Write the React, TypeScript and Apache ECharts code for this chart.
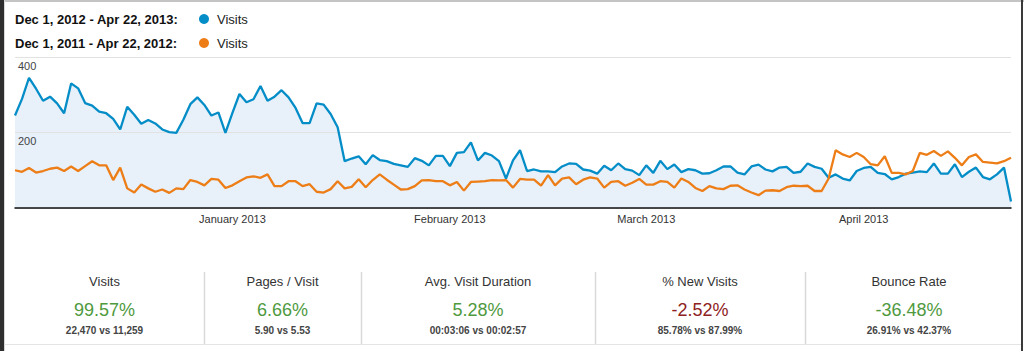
import React, { useEffect, useRef } from "react";
import * as echarts from "echarts";

const visits2013 = [
  245, 289, 345, 316, 284, 295, 277, 251, 330, 317, 278, 271, 255, 251, 236, 208, 268, 247, 223, 233, 224, 208, 201, 199, 234, 275, 293, 273, 245, 253, 199, 252, 302, 280, 288, 323,
  284, 295, 312, 293, 265, 225, 225, 277, 274, 249, 214, 124, 131, 137, 116, 140, 127, 124, 117, 113, 109, 132, 125, 113, 138, 138, 111, 146, 148, 174, 126, 146, 139, 124, 78,
  126, 153, 98, 102, 97, 97, 95, 110, 118, 117, 102, 99, 91, 112, 100, 118, 103, 99, 87, 113, 93, 125, 103, 115, 95, 103, 100, 91, 92, 100, 110, 110, 94, 89, 110, 115,
  102, 97, 107, 109, 93, 96, 118, 109, 104, 80, 89, 78, 73, 98, 106, 109, 93, 90, 76, 82, 91, 94, 97, 95, 118, 91, 91, 116, 82, 96, 107, 82, 76, 89, 107, 17,
];

const visits2012 = [
  100, 96, 106, 94, 98, 104, 107, 98, 110, 98, 111, 124, 113, 113, 74, 107, 52, 41, 62, 52, 43, 49, 40, 52, 50, 74, 69, 60, 77, 75, 53, 60, 71, 81, 84, 80,
  89, 58, 58, 71, 71, 58, 63, 43, 41, 50, 71, 52, 56, 76, 55, 74, 89, 75, 62, 49, 50, 58, 73, 74, 71, 71, 60, 69, 46, 69, 70, 71, 74, 73, 74,
  54, 77, 75, 75, 59, 87, 60, 78, 81, 63, 75, 81, 78, 54, 69, 71, 59, 67, 77, 62, 62, 71, 69, 54, 78, 69, 53, 45, 58, 52, 50, 59, 60, 49, 41, 34,
  46, 47, 45, 55, 59, 58, 59, 45, 45, 78, 153, 142, 135, 146, 135, 116, 113, 137, 93, 93, 89, 98, 146, 141, 151, 138, 150, 133, 113, 135, 142, 122, 120, 118, 124, 133,
];

const monthLabels: Record<string, string> = {
  "2013-01-01": "January 2013",
  "2013-02-01": "February 2013",
  "2013-03-01": "March 2013",
  "2013-04-01": "April 2013",
};

const legendRanges = ["Dec 1, 2012 - Apr 22, 2013:", "Dec 1, 2011 - Apr 22, 2012:"];
const legendSeriesName = "Visits";

const cardTitles = ["Visits", "Pages / Visit", "Avg. Visit Duration", "% New Visits", "Bounce Rate"];
const cardValues = ["99.57%", "6.66%", "5.28%", "-2.52%", "-36.48%"];
const cardPositive = [true, true, true, false, true];
const cardCompare = ["22,470 vs 11,259", "5.90 vs 5.53", "00:03:06 vs 00:02:57", "85.78% vs 87.99%", "26.91% vs 42.37%"];

const categories: string[] = [];
{
  const d = new Date(Date.UTC(2012, 11, 1));
  for (let i = 0; i < visits2013.length; i++) {
    categories.push(d.toISOString().slice(0, 10));
    d.setUTCDate(d.getUTCDate() + 1);
  }
}

const BLUE = "#058dc7";
const ORANGE = "#ed7e17";
const FONT = "Liberation Sans, Arial, sans-serif";

export default function App() {
  const ref = useRef<HTMLDivElement>(null);
  useEffect(() => {
    document.body.style.margin = "0";
    const chart = echarts.init(ref.current!, null, { renderer: "svg" });

    const colEdges = [5, 204, 361, 595, 805, 1013];
    const graphics: any[] = [
      { type: "rect", shape: { x: 0, y: 0, width: 1024, height: 2 }, style: { fill: "#c4c4c4" }, silent: true },
      { type: "rect", shape: { x: 0, y: 0, width: 4, height: 351 }, style: { fill: "#2e2e2e" }, silent: true },
      { type: "rect", shape: { x: 4, y: 0, width: 1, height: 351 }, style: { fill: "#d8d8d8" }, silent: true },
      { type: "rect", shape: { x: 1021, y: 0, width: 2, height: 351 }, style: { fill: "#3a3a3a" }, silent: true },
      { type: "line", shape: { x1: 5, y1: 344.5, x2: 1021, y2: 344.5 }, style: { stroke: "#e4e4e4", lineWidth: 1 }, silent: true },
    ];
    legendRanges.forEach((label, i) => {
      const y = 19 + i * 24;
      graphics.push({
        type: "text", x: 15, y,
        style: { text: label, font: `bold 13px ${FONT}`, fill: "#111", verticalAlign: "middle", textAlign: "left" },
      });
      graphics.push({ type: "circle", shape: { cx: 204, cy: y, r: 5 }, style: { fill: i === 0 ? BLUE : ORANGE } });
      graphics.push({
        type: "text", x: 217, y,
        style: { text: legendSeriesName, font: `13px ${FONT}`, fill: "#222", verticalAlign: "middle", textAlign: "left" },
      });
    });
    for (let k = 1; k < colEdges.length - 1; k++) {
      graphics.push({
        type: "line", shape: { x1: colEdges[k] + 0.5, y1: 272, x2: colEdges[k] + 0.5, y2: 344 },
        style: { stroke: "#d9d9d9", lineWidth: 1.5 }, silent: true,
      });
    }
    cardTitles.forEach((t, k) => {
      const cx = (colEdges[k] + colEdges[k + 1]) / 2;
      graphics.push({ type: "text", x: cx, y: 281, style: { text: t, font: `13px ${FONT}`, fill: "#333", textAlign: "center", verticalAlign: "middle" } });
      graphics.push({
        type: "text", x: cx, y: 310,
        style: { text: cardValues[k], font: `18px ${FONT}`, fill: cardPositive[k] ? "#4f9a3e" : "#8e2222", textAlign: "center", verticalAlign: "middle" },
      });
      graphics.push({ type: "text", x: cx, y: 330, style: { text: cardCompare[k], font: `bold 10px ${FONT}`, fill: "#444", textAlign: "center", verticalAlign: "middle" } });
    });

    chart.setOption({
      animation: false,
      backgroundColor: "#fff",
      grid: { left: 15, right: 13, top: 57, height: 151 },
      xAxis: {
        type: "category",
        data: categories,
        boundaryGap: false,
        z: 3,
        axisLine: { lineStyle: { color: "#111", width: 1.5 } },
        axisTick: { show: false },
        splitLine: { show: false },
        axisLabel: {
          interval: (idx: number, val: string) => !!monthLabels[val],
          formatter: (val: string) => monthLabels[val] || "",
          color: "#333",
          fontSize: 11,
          fontFamily: FONT,
          margin: 5,
        },
      },
      yAxis: {
        type: "value",
        min: 0,
        max: 400,
        interval: 200,
        z: 2,
        axisLine: { show: false },
        axisTick: { show: false },
        splitLine: { lineStyle: { color: "#e2e2e2", width: 1 } },
        axisLabel: {
          inside: true,
          verticalAlign: "top",
          margin: 3,
          padding: [3, 0, 0, 0],
          color: "#444",
          fontSize: 11,
          fontFamily: FONT,
          formatter: (v: number) => (v === 0 ? "" : String(v)),
        },
      },
      series: [
        {
          name: "Visits 2013 area",
          type: "line",
          data: visits2013,
          showSymbol: false,
          z: 1,
          lineStyle: { width: 0, color: BLUE },
          areaStyle: { color: "#e8f0fa", opacity: 1 },
        },
        {
          name: "Visits 2013",
          type: "line",
          data: visits2013,
          showSymbol: false,
          z: 4,
          lineStyle: { color: BLUE, width: 2.3 },
          itemStyle: { color: BLUE },
        },
        {
          name: "Visits 2012",
          type: "line",
          data: visits2012,
          showSymbol: false,
          z: 5,
          lineStyle: { color: ORANGE, width: 2.3 },
          itemStyle: { color: ORANGE },
        },
      ],
      graphic: graphics,
    });
    return () => chart.dispose();
  }, []);
  return <div ref={ref} style={{ width: 1024, height: 351 }} />;
}
